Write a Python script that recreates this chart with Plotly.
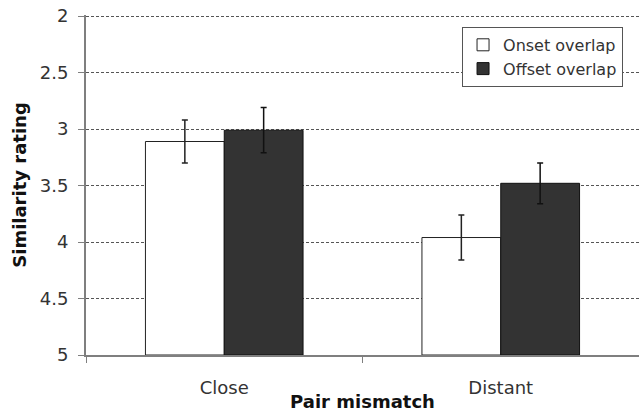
import plotly.graph_objects as go

# Mean similarity ratings per mismatch condition, with error bars
categories = ["Close", "Distant"]
onset_means = [3.11, 3.96]
offset_means = [3.01, 3.48]
onset_err = [0.19, 0.20]
offset_err = [0.20, 0.18]
y_ticks = [2, 2.5, 3, 3.5, 4, 4.5, 5]
y_tick_labels = ["2", "2.5", "3", "3.5", "4", "4.5", "5"]

BASE = 5  # bars grow upward from the bottom of the reversed scale

FONT = "DejaVu Sans, Verdana, sans-serif"

fig = go.Figure()
fig.add_trace(go.Bar(
    name="Onset overlap",
    x=categories,
    y=[v - BASE for v in onset_means],
    base=BASE,
    marker=dict(color="white", line=dict(color="#222222", width=1)),
    error_y=dict(type="data", array=onset_err, color="#222222", thickness=1.5, width=3),
))
fig.add_trace(go.Bar(
    name="Offset overlap",
    x=categories,
    y=[v - BASE for v in offset_means],
    base=BASE,
    marker=dict(color="#333333", line=dict(color="#111111", width=1)),
    error_y=dict(type="data", array=offset_err, color="#111111", thickness=1.5, width=3),
))

fig.update_layout(
    width=639, height=412,
    margin=dict(l=86, r=0, t=15, b=57),
    paper_bgcolor="white", plot_bgcolor="white",
    barmode="group", bargap=0.43, bargroupgap=0,
    font=dict(family=FONT, size=18, color="#333333"),
    showlegend=True,
    legend=dict(
        x=0.68, y=0.965, xanchor="left", yanchor="top",
        bgcolor="white", bordercolor="#555555", borderwidth=1,
        font=dict(family=FONT, size=16, color="#333333"),
        itemwidth=30, tracegroupgap=0,
    ),
)

fig.update_yaxes(
    range=[5, 1.99],
    tickvals=y_ticks, ticktext=y_tick_labels,
    showline=True, linecolor="#7f7f7f", linewidth=2,
    ticks="outside", ticklen=6, tickcolor="#7f7f7f",
    ticklabelstandoff=6,
    showgrid=True, gridcolor="#555555", gridwidth=1, griddash="3px,2px",
    zeroline=False,
    tickfont=dict(size=18, color="#333333"),
    title=dict(text="<b>Similarity rating</b>", font=dict(size=18, color="#111111"), standoff=8),
)
fig.update_xaxes(
    showline=True, linecolor="#7f7f7f", linewidth=2,
    ticks="outside", tickson="boundaries", ticklen=6, tickcolor="#7f7f7f",
    ticklabelstandoff=15,
    showgrid=False,
    tickfont=dict(size=18, color="#333333"),
    title=dict(text="<b>Pair mismatch</b>", font=dict(size=18, color="#111111"), standoff=2),
)

fig.write_html("out.html")
